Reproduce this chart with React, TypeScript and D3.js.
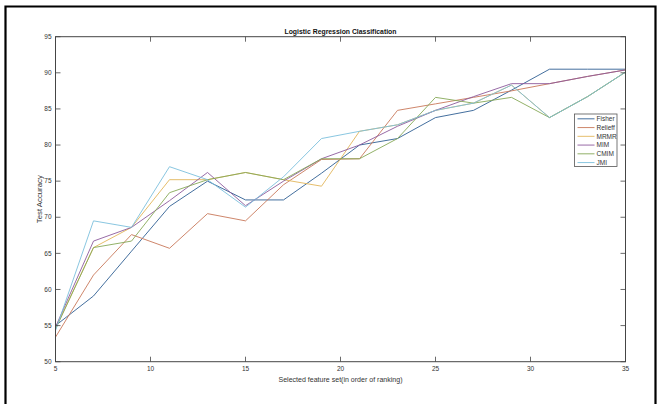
import React, { useEffect, useRef } from 'react';
import * as d3 from 'd3';

const featureCounts = [5, 7, 9, 11, 13, 15, 17, 19, 21, 23, 25, 27, 29, 31, 33, 35];
const seriesNames = ['Fisher', 'Relieff', 'MRMR', 'MIM', 'CMIM', 'JMI'];
const seriesColors = ['#2f5f93', '#c8785a', '#e2b55a', '#8c5a9c', '#86a857', '#7cc0dc'];

const fisher = [55.0, 59.1, 65.3, 71.5, 75.0, 72.4, 72.4, 76.1, 80.0, 80.9, 83.8, 84.8, 87.6, 90.5, 90.5, 90.5];
const relieff = [53.4, 62.0, 67.6, 65.7, 70.5, 69.5, 74.5, 78.0, 78.1, 84.8, 85.7, 86.6, 87.5, 88.5, 89.5, 90.4];
const mrmr = [54.6, 65.8, 68.6, 75.2, 75.2, 76.2, 75.2, 74.3, 81.9, 82.8, 84.8, 85.8, 88.3, 83.8, 86.7, 90.1];
const mim = [54.8, 66.7, 68.6, 72.3, 76.2, 71.6, 75.0, 78.1, 80.0, 82.6, 84.8, 86.7, 88.5, 88.5, 89.5, 90.4];
const cmim = [54.5, 65.8, 66.7, 73.4, 75.2, 76.2, 75.2, 78.1, 78.1, 80.9, 86.6, 85.8, 86.6, 83.8, 86.7, 90.1];
const jmi = [54.3, 69.5, 68.6, 77.0, 75.2, 71.4, 75.6, 80.9, 81.9, 82.8, 84.8, 85.8, 88.3, 83.8, 86.7, 90.1];

const xTicks = [5, 10, 15, 20, 25, 30, 35];
const yTicks = [50, 55, 60, 65, 70, 75, 80, 85, 90, 95];

function App() {
  const svgRef = useRef(null);

  useEffect(() => {
    const W = 661, H = 404;
    const left = 55.5, right = 625.5, top = 36.7, bottom = 361.7;
    const font = 'Arial, "Liberation Sans", sans-serif';
    const axisColor = '#454545';

    const svg = d3.select(svgRef.current);
    svg.selectAll('*').remove();
    svg.attr('width', W).attr('height', H).attr('viewBox', `0 0 ${W} ${H}`);

    svg.append('rect').attr('width', W).attr('height', H).attr('fill', '#fff');

    // outer frame (no bottom edge)
    svg.append('path')
      .attr('d', `M5.5,${H} V6.5 H655.5 V${H}`)
      .attr('fill', 'none')
      .attr('stroke', '#000')
      .attr('stroke-width', 2.2);

    const x = d3.scaleLinear().domain([5, 35]).range([left, right]);
    const y = d3.scaleLinear().domain([50, 95]).range([bottom, top]);

    const series = [fisher, relieff, mrmr, mim, cmim, jmi];

    // Lines
    const line = d3.line().x((d, i) => x(featureCounts[i])).y(d => y(d));
    series.forEach((vals, k) => {
      svg.append('path')
        .datum(vals)
        .attr('d', line)
        .attr('fill', 'none')
        .attr('stroke', seriesColors[k])
        .attr('stroke-width', 0.9);
    });

    // Axes box
    svg.append('rect')
      .attr('x', left).attr('y', top)
      .attr('width', right - left).attr('height', bottom - top)
      .attr('fill', 'none')
      .attr('stroke', axisColor)
      .attr('stroke-width', 1);

    const tickLen = 5;
    // x ticks
    xTicks.forEach(t => {
      svg.append('line')
        .attr('x1', x(t)).attr('x2', x(t))
        .attr('y1', bottom).attr('y2', bottom - tickLen)
        .attr('stroke', axisColor).attr('stroke-width', 0.8);
      svg.append('line')
        .attr('x1', x(t)).attr('x2', x(t))
        .attr('y1', top).attr('y2', top + tickLen)
        .attr('stroke', axisColor).attr('stroke-width', 0.8);
      svg.append('text')
        .attr('x', x(t)).attr('y', bottom + 9.5)
        .attr('text-anchor', 'middle')
        .style('font-family', font).style('font-size', '6.5px').style('fill', '#333')
        .text(t);
    });

    // y ticks
    yTicks.forEach(t => {
      svg.append('line')
        .attr('x1', left).attr('x2', left + tickLen)
        .attr('y1', y(t)).attr('y2', y(t))
        .attr('stroke', axisColor).attr('stroke-width', 0.8);
      svg.append('line')
        .attr('x1', right).attr('x2', right - tickLen)
        .attr('y1', y(t)).attr('y2', y(t))
        .attr('stroke', axisColor).attr('stroke-width', 0.8);
      svg.append('text')
        .attr('x', left - 4).attr('y', y(t) + 2.2)
        .attr('text-anchor', 'end')
        .style('font-family', font).style('font-size', '6.5px').style('fill', '#333')
        .text(t);
    });

    // Title
    svg.append('text')
      .attr('x', (left + right) / 2).attr('y', 34)
      .attr('text-anchor', 'middle')
      .attr('textLength', 112).attr('lengthAdjust', 'spacingAndGlyphs')
      .style('font-family', font).style('font-size', '8px').style('font-weight', 'bold').style('fill', '#111')
      .text('Logistic Regression Classification');

    // X label
    svg.append('text')
      .attr('x', (left + right) / 2).attr('y', 382)
      .attr('text-anchor', 'middle')
      .attr('textLength', 124).attr('lengthAdjust', 'spacingAndGlyphs')
      .style('font-family', font).style('font-size', '7px').style('fill', '#333')
      .text('Selected feature set(in order of ranking)');

    // Y label
    svg.append('text')
      .attr('transform', `translate(42, ${(top + bottom) / 2}) rotate(-90)`)
      .attr('text-anchor', 'middle')
      .attr('textLength', 48).attr('lengthAdjust', 'spacingAndGlyphs')
      .style('font-family', font).style('font-size', '7px').style('fill', '#333')
      .text('Test Accuracy');

    // Legend
    const lx = 574.5, ly = 114, lw = 42.5, lh = 52.5;
    const lg = svg.append('g');
    lg.append('rect')
      .attr('x', lx).attr('y', ly).attr('width', lw).attr('height', lh)
      .attr('fill', '#fff').attr('stroke', '#555').attr('stroke-width', 0.8);
    const rowH = lh / seriesNames.length;
    seriesNames.forEach((name, i) => {
      const cy = ly + rowH * (i + 0.55);
      lg.append('line')
        .attr('x1', lx + 3).attr('x2', lx + 20)
        .attr('y1', cy).attr('y2', cy)
        .attr('stroke', seriesColors[i]).attr('stroke-width', 0.9);
      lg.append('text')
        .attr('x', lx + 22).attr('y', cy + 2.3)
        .style('font-family', font).style('font-size', '6.5px').style('fill', '#333')
        .text(name);
    });
  }, []);

  return (
    <div style={{ position: 'absolute', left: 0, top: 0 }}>
      <svg ref={svgRef} style={{ display: 'block' }} />
    </div>
  );
}

export default App;
